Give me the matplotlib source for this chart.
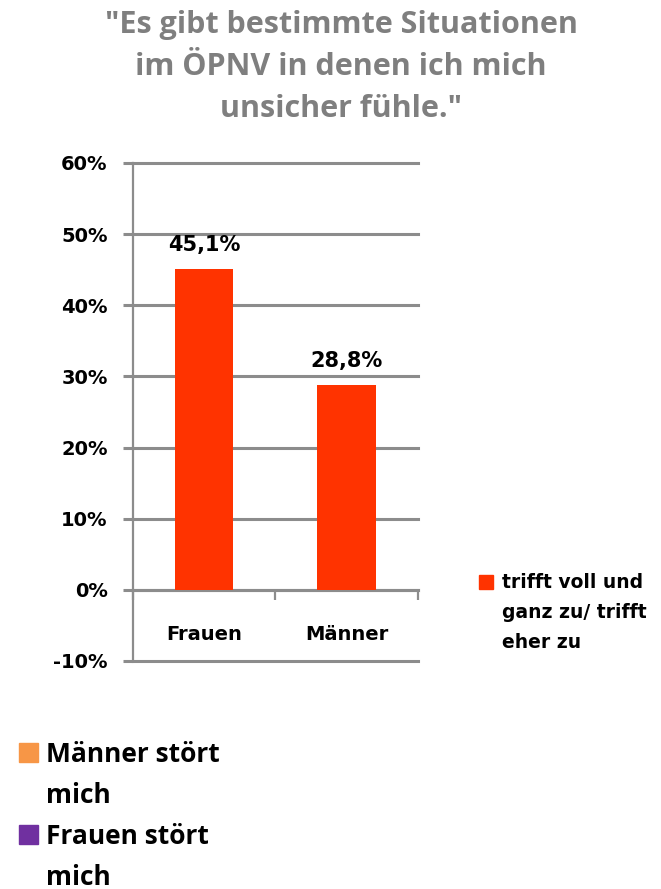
import matplotlib.pyplot as plt
from matplotlib.patches import Rectangle

# data
categories = ["Frauen", "Männer"]
values = [45.1, 28.8]
value_labels = ["45,1%", "28,8%"]
y_ticks = [-10, 0, 10, 20, 30, 40, 50, 60]
y_tick_labels = ["-10%", "0%", "10%", "20%", "30%", "40%", "50%", "60%"]
series_name = "trifft voll und\nganz zu/ trifft\neher zu"
series_color = "#FF3300"
extra_names = ["Männer stört\nmich", "Frauen stört\nmich"]
extra_colors = ["#F79646", "#7030A0"]
title = '"Es gibt bestimmte Situationen\nim ÖPNV in denen ich mich\nunsicher fühle."'

GRID = "#8C8C8C"


def main():
    fig = plt.figure(figsize=(6.61, 8.89), dpi=100)
    W, H = 661, 889

    ax = fig.add_axes([132.7 / W, 1 - 661 / H, 285.3 / W, 498 / H])
    x = list(range(len(categories)))
    bars = ax.bar(x, values, width=0.41, color=series_color, zorder=3)
    ax.bar_label(bars, labels=value_labels, padding=10, fontsize=15,
                 fontweight="bold", family="DejaVu Sans")

    ax.set_xlim(-0.5, 1.5)
    ax.set_ylim(-10, 60)
    ax.set_yticks(y_ticks, y_tick_labels)
    ax.yaxis.grid(True, color=GRID, lw=2.2)
    ax.set_axisbelow(True)
    for line in ax.get_ygridlines():
        line.set_clip_on(False)

    for s in ["top", "right"]:
        ax.spines[s].set_visible(False)
    ax.spines["left"].set_color(GRID)
    ax.spines["left"].set_linewidth(1.6)
    ax.spines["bottom"].set_position(("data", 0))
    ax.spines["bottom"].set_color(GRID)
    ax.spines["bottom"].set_linewidth(2.2)

    ax.tick_params(axis="y", length=7, width=2.2, color=GRID, pad=11,
                   labelsize=14)
    for t in ax.get_yticklabels():
        t.set_fontweight("bold")

    ax.set_xticks(x, categories)
    ax.set_xticks([-0.5, 0.5, 1.5], minor=True)
    ax.tick_params(axis="x", which="major", length=0, pad=25, labelsize=14)
    ax.tick_params(axis="x", which="minor", length=7, width=1.6, color=GRID)
    for t in ax.get_xticklabels():
        t.set_fontweight("bold")

    # title
    fig.text(341 / W, 1 - 10 / H, title, ha="center", va="top",
             fontsize=22, fontweight="bold", color="#7F7F7F",
             family="Open Sans", linespacing=1.52)

    # right legend
    fig.patches.append(Rectangle((479 / W, 1 - 589 / H), 14 / W, 14 / H,
                                 transform=fig.transFigure,
                                 color=series_color))
    fig.text(502 / W, 1 - 573 / H, series_name, ha="left", va="top",
             fontsize=13.5, fontweight="bold", family="DejaVu Sans",
             linespacing=1.72)

    # bottom legend
    tops = [743, 825]
    for name, color, top in zip(extra_names, extra_colors, tops):
        fig.patches.append(Rectangle((19 / W, 1 - (top + 19) / H),
                                     19 / W, 19 / H,
                                     transform=fig.transFigure, color=color))
        fig.text(46 / W, 1 - (top - 2) / H, name, ha="left", va="top",
                 fontsize=19, fontweight="bold", family="Open Sans",
                 linespacing=1.65)

    fig.savefig("out.png", dpi=100)


if __name__ == "__main__":
    main()
